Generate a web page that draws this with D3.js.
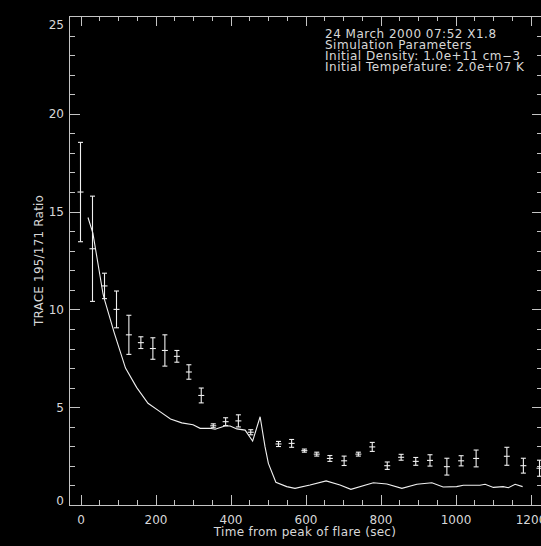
<!DOCTYPE html>
<html>
<head>
<meta charset="utf-8">
<script src="https://cdn.jsdelivr.net/npm/d3@7"></script>
<style>
  html, body { margin: 0; padding: 0; background: #000; }
  svg { display: block; }
  text { font-family: "DejaVu Sans", sans-serif; font-size: 12px; fill: #d8d8d8; }
</style>
</head>
<body>
<svg id="chart" width="541" height="546"></svg>
<script>
// Observed TRACE 195/171 ratio (time from flare peak in seconds)
const obsTime  = [0, 32, 64, 96, 129, 161, 193, 225, 257, 289, 322, 354, 387, 421, 454,
                  528, 563, 597, 630, 665, 703, 741, 778, 818, 855, 894, 932, 977, 1015, 1055,
                  1137, 1181, 1224];
const obsRatio = [16.0, 13.1, 11.2, 10.0, 8.7, 8.3, 8.0, 7.9, 7.6, 6.8, 5.6, 4.05, 4.26, 4.3, 3.72,
                  3.12, 3.15, 2.78, 2.6, 2.38, 2.26, 2.6, 2.97, 2.01, 2.44, 2.23, 2.28, 1.96, 2.26, 2.38,
                  2.49, 2.01, 1.88];
const obsErr   = [2.54, 2.69, 0.65, 0.94, 1.0, 0.3, 0.55, 0.8, 0.3, 0.37, 0.38, 0.1, 0.2, 0.31, 0.13,
                  0.13, 0.2, 0.08, 0.1, 0.15, 0.24, 0.1, 0.23, 0.19, 0.15, 0.2, 0.29, 0.43, 0.26, 0.43,
                  0.46, 0.38, 0.41];

// Simulated ratio curve
const modelTime  = [20, 33, 60, 64, 90, 120, 150, 180, 210, 240, 270, 300, 319, 345, 359, 385, 399,
                    417, 439, 459, 479, 492, 501, 521, 550, 572, 612, 655, 692, 721, 781, 817, 857,
                    897, 937, 967, 1003, 1021, 1065, 1079, 1101, 1127, 1141, 1159, 1179];
const modelRatio = [14.7, 13.9, 10.8, 10.5, 8.8, 7.0, 6.0, 5.2, 4.8, 4.4, 4.2, 4.1, 3.92, 3.92, 3.87,
                    4.04, 4.04, 3.89, 3.83, 3.27, 4.51, 2.98, 2.13, 1.16, 0.94, 0.85, 1.02, 1.23, 1.02,
                    0.80, 1.14, 1.07, 0.85, 1.06, 1.14, 0.92, 0.94, 1.01, 1.01, 1.06, 0.90, 0.94, 0.88,
                    1.06, 0.94];

// Axis ticks and annotation
const xMajorTicks = [0, 200, 400, 600, 800, 1000, 1200];
const yMajorTicks = [0, 5, 10, 15, 20, 25];
const xLabel = "Time from peak of flare (sec)";
const yLabel = "TRACE 195/171 Ratio";
const notes = [
  "24 March 2000 07:52 X1.8",
  "Simulation Parameters",
  "Initial Density: 1.0e+11 cm\u22123",
  "Initial Temperature: 2.0e+07 K"
];

const svg = d3.select("#chart");
const plotLeft = 69.5, plotRight = 541.75, plotTop = 16, plotBottom = 505;

const x = d3.scaleLinear().domain([-30, 1230]).range([plotLeft - 0.25, plotRight]);
const y = d3.scaleLinear().domain([0, 25]).range([plotBottom, plotTop]);

const axisColor = "#c4c4c4";
const dataColor = "#f0f0f0";

const xMinor = d3.range(0, 1231, 50).filter(v => v % 200 !== 0);
const yMinor = d3.range(0, 26, 1).filter(v => v % 5 !== 0);

function styleAxis(g) {
  g.select(".domain").remove();
  g.selectAll(".tick line").attr("stroke", axisColor).attr("shape-rendering", "crispEdges");
}

// bottom axis
svg.append("g").attr("transform", `translate(0,${plotBottom})`)
  .call(d3.axisBottom(x).tickValues(xMajorTicks).tickSize(-10).tickPadding(10.5).tickFormat(d3.format("d")))
  .call(styleAxis)
  .call(g => g.selectAll("text").attr("font-family", null).attr("font-size", null));
svg.append("g").attr("transform", `translate(0,${plotBottom})`)
  .call(d3.axisBottom(x).tickValues(xMinor).tickSize(-5).tickFormat(""))
  .call(styleAxis);

// top axis
svg.append("g").attr("transform", `translate(0,${plotTop})`)
  .call(d3.axisTop(x).tickValues(xMajorTicks).tickSize(-10).tickFormat(""))
  .call(styleAxis);
svg.append("g").attr("transform", `translate(0,${plotTop})`)
  .call(d3.axisTop(x).tickValues(xMinor).tickSize(-5).tickFormat(""))
  .call(styleAxis);

// left axis
const yAxisG = svg.append("g").attr("transform", `translate(${plotLeft},0)`)
  .call(d3.axisLeft(y).tickValues(yMajorTicks).tickSize(-10).tickPadding(5.5).tickFormat(d3.format("d")))
  .call(styleAxis)
  .call(g => g.selectAll("text").attr("font-family", null).attr("font-size", null));
svg.append("g").attr("transform", `translate(${plotLeft},0)`)
  .call(d3.axisLeft(y).tickValues(yMinor).tickSize(-5).tickFormat(""))
  .call(styleAxis);

// keep end labels inside the frame's vertical extent
yAxisG.selectAll(".tick").each(function(d) {
  const t = d3.select(this).select("text");
  const b = t.node().getBBox();
  const ty = y(d);
  const topEdge = ty + b.y, botEdge = ty + b.y + b.height;
  let shift = 0;
  if (topEdge < plotTop) shift = plotTop + 1 - topEdge;
  if (botEdge > plotBottom + 2) shift = plotBottom + 2 - botEdge;
  if (shift) t.attr("transform", `translate(0,${shift})`);
});

// right axis
svg.append("g").attr("transform", `translate(${plotRight},0)`)
  .call(d3.axisRight(y).tickValues(yMajorTicks).tickSize(-10).tickFormat(""))
  .call(styleAxis);
svg.append("g").attr("transform", `translate(${plotRight},0)`)
  .call(d3.axisRight(y).tickValues(yMinor).tickSize(-5).tickFormat(""))
  .call(styleAxis);

// frame
svg.append("rect")
  .attr("x", plotLeft).attr("y", plotTop + 0.5)
  .attr("width", plotRight - plotLeft).attr("height", plotBottom - plotTop)
  .attr("fill", "none").attr("stroke", axisColor).attr("shape-rendering", "crispEdges");

// axis titles
svg.append("text")
  .attr("x", 305).attr("y", 536)
  .attr("text-anchor", "middle")
  .style("letter-spacing", "0.3px")
  .text(xLabel);
svg.append("text")
  .attr("transform", `translate(43,${(plotTop + plotBottom) / 2}) rotate(-90)`)
  .attr("text-anchor", "middle")
  .style("letter-spacing", "0.2px")
  .text(yLabel);

// simulated curve
const model = modelTime.map((t, i) => ({ t, r: modelRatio[i] }));
svg.append("path")
  .datum(model)
  .attr("fill", "none")
  .attr("stroke", dataColor)
  .attr("stroke-width", 1.1)
  .attr("d", d3.line().x(d => x(d.t)).y(d => y(d.r)));

// observed points with error bars
const obs = obsTime.map((t, i) => ({ t, r: obsRatio[i], e: obsErr[i] }));
const pts = svg.append("g").attr("stroke", dataColor).attr("stroke-width", 1.1)
  .selectAll("g").data(obs).join("g");
pts.append("line")
  .attr("x1", d => x(d.t)).attr("x2", d => x(d.t))
  .attr("y1", d => y(d.r + d.e)).attr("y2", d => y(d.r - d.e));
pts.append("line")
  .attr("x1", d => x(d.t) - 2.5).attr("x2", d => x(d.t) + 2.5)
  .attr("y1", d => y(d.r + d.e)).attr("y2", d => y(d.r + d.e));
pts.append("line")
  .attr("x1", d => x(d.t) - 2.5).attr("x2", d => x(d.t) + 2.5)
  .attr("y1", d => y(d.r - d.e)).attr("y2", d => y(d.r - d.e));
pts.append("line")
  .attr("x1", d => x(d.t) - 3).attr("x2", d => x(d.t) + 3)
  .attr("y1", d => y(d.r)).attr("y2", d => y(d.r));

// annotation block
svg.append("g").selectAll("text").data(notes).join("text")
  .attr("x", 325)
  .attr("y", (d, i) => 38 + i * 11)
  .style("letter-spacing", "0.5px")
  .text(d => d);
</script>
</body>
</html>
